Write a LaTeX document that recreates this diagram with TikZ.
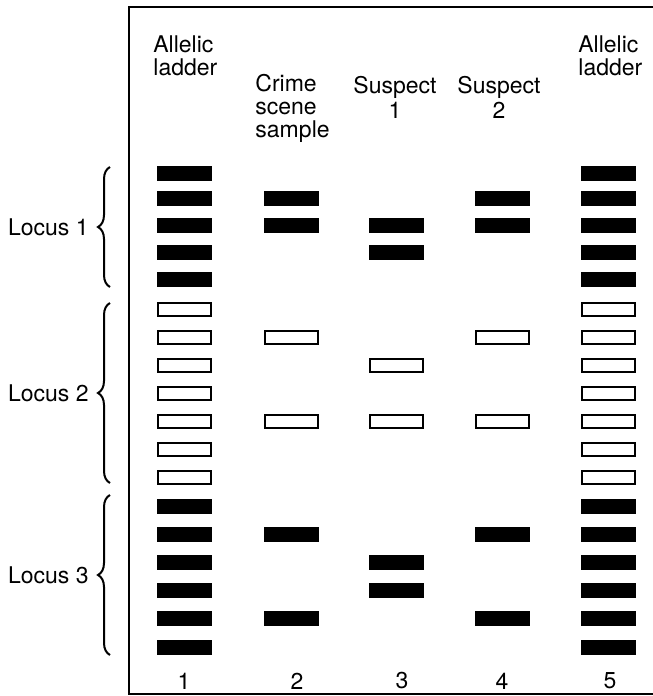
\documentclass[tikz,border=0pt]{standalone}
\usepackage{fontspec}
\setmainfont{TeX Gyre Heros}
\usetikzlibrary{decorations.pathreplacing}

\begin{document}
\begin{tikzpicture}[
  x=0.5pt, y=-0.5pt,
  fband/.style={rectangle,fill=black,minimum width=27.5pt,minimum height=7.5pt,inner sep=0pt},
  oband/.style={rectangle,draw=black,line width=1pt,fill=white,minimum width=26.5pt,minimum height=6.5pt,inner sep=0pt},
  head/.style={font=\fontsize{11.5}{11.5}\selectfont,inner sep=0pt,align=left,anchor=north west},
  suspect/.style={font=\fontsize{11.5}{12.5}\selectfont,inner sep=0pt,align=center,anchor=north},
  lane/.style={font=\fontsize{11.5}{12}\selectfont,inner sep=0pt},
  locus/.style={font=\fontsize{11.5}{12}\selectfont,inner sep=0pt,anchor=east},
  lbrace/.style={decorate,decoration={brace,amplitude=6pt},line width=1pt}
]
  \useasboundingbox (0,0) rectangle (653,696);

  % frame
  \draw[line width=1pt] (653,7) -- (129,7) -- (129,694) -- (653,694);

  % headings
  \node[head] (h1) at (153,35) {Allelic\\ladder};
  \node[head] (h2) at (255,74) {Crime\\scene\\sample};
  \node[suspect] (h3) at (395,76) {Suspect\\1};
  \node[suspect] (h4) at (499,76) {Suspect\\2};
  \node[head] (h5) at (578,35) {Allelic\\ladder};

  % allelic ladders, lanes 1 and 5
  \foreach \y [count=\i] in {173,198,225,252,279} {
    \node[fband] (la\i) at (184,\y) {};
    \node[fband] (lb\i) at (608,\y) {};
  }
  \foreach \y [count=\i] in {309,337,365,393,421,449,477} {
    \node[oband] (ma\i) at (184,\y) {};
    \node[oband] (mb\i) at (608,\y) {};
  }
  \foreach \y [count=\i] in {506,534,562,590,618,647} {
    \node[fband] (na\i) at (184,\y) {};
    \node[fband] (nb\i) at (608,\y) {};
  }

  % crime scene sample
  \node[fband] (c1) at (291,198) {};
  \node[fband] (c2) at (291,225) {};
  \node[oband] (c3) at (291,337) {};
  \node[oband] (c4) at (291,421) {};
  \node[fband] (c5) at (291,534) {};
  \node[fband] (c6) at (291,618) {};

  % suspect 1
  \node[fband] (s1) at (396,225) {};
  \node[fband] (s2) at (396,252) {};
  \node[oband] (s3) at (396,365) {};
  \node[oband] (s4) at (396,421) {};
  \node[fband] (s5) at (396,562) {};
  \node[fband] (s6) at (396,590) {};

  % suspect 2
  \node[fband] (t1) at (502,198) {};
  \node[fband] (t2) at (502,225) {};
  \node[oband] (t3) at (502,337) {};
  \node[oband] (t4) at (502,421) {};
  \node[fband] (t5) at (502,534) {};
  \node[fband] (t6) at (502,618) {};

  % lane numbers
  \node[lane] (n1) at (184,681) {1};
  \node[lane] (n2) at (297,681) {2};
  \node[lane] (n3) at (402,681) {3};
  \node[lane] (n4) at (502,681) {4};
  \node[lane] (n5) at (610,681) {5};

  % loci
  \coordinate (b1a) at (110,287);
  \coordinate (b1b) at (110,167);
  \coordinate (b2a) at (110,483);
  \coordinate (b2b) at (110,303);
  \coordinate (b3a) at (110,655);
  \coordinate (b3b) at (110,495);
  \draw[lbrace] (b1a) -- (b1b);
  \draw[lbrace] (b2a) -- (b2b);
  \draw[lbrace] (b3a) -- (b3b);
  \node[locus] (k1) at (89,227) {Locus 1};
  \node[locus] (k2) at (89,393) {Locus 2};
  \node[locus] (k3) at (89,575) {Locus 3};
\end{tikzpicture}
\end{document}
